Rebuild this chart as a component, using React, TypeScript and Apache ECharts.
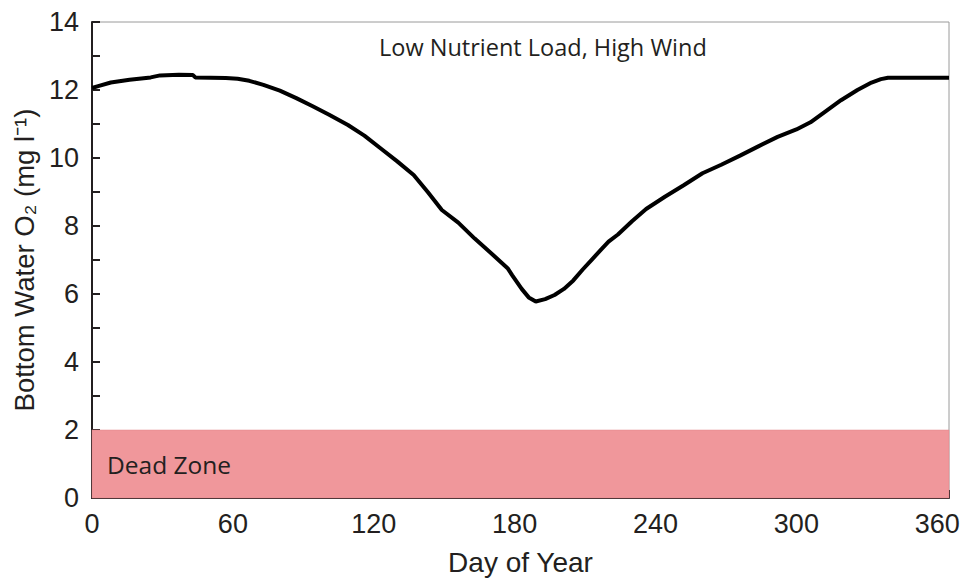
import React, { useEffect, useRef } from "react";
import * as echarts from "echarts";

const days = [0, 3, 8, 16, 25, 29, 37, 43, 44, 57, 62, 67, 73, 80, 87, 94, 101, 109, 116, 123, 130, 137, 143, 149, 156, 163, 170, 177, 179, 183, 186, 189, 193, 197, 201, 205, 209, 213, 217, 220, 224, 230, 236, 244, 252, 260, 268, 276, 284, 292, 300, 306, 312, 319, 326, 332, 336, 339, 350, 365];
const oxygen = [12.06, 12.12, 12.22, 12.3, 12.37, 12.43, 12.45, 12.44, 12.37, 12.35, 12.33, 12.27, 12.15, 11.98, 11.76, 11.52, 11.27, 10.97, 10.66, 10.28, 9.9, 9.5, 9.0, 8.47, 8.1, 7.63, 7.2, 6.76, 6.55, 6.15, 5.9, 5.78, 5.85, 5.97, 6.15, 6.4, 6.72, 7.02, 7.32, 7.54, 7.75, 8.14, 8.5, 8.86, 9.2, 9.55, 9.8, 10.07, 10.35, 10.62, 10.84, 11.05, 11.35, 11.7, 12.0, 12.22, 12.32, 12.36, 12.36, 12.36];
const deadZone = [0, 2];
const titleText = "Low Nutrient Load, High Wind";
const deadZoneText = "Dead Zone";
const xName = "Day of Year";
const yName = "Bottom Water O\u2082 (mg l\u207B\u00B9)";

export default function App() {
  const ref = useRef<HTMLDivElement>(null);
  useEffect(() => {
    if (!ref.current) return;
    const chart = echarts.init(ref.current, null, { renderer: "svg" });
    const axisColor = "#231f20";
    chart.setOption({
      animation: false,
      backgroundColor: "#ffffff",
      grid: {
        left: 92,
        right: 15,
        top: 22,
        bottom: 84,
        show: true,
        borderColor: "#9a9a9a",
        borderWidth: 1,
        backgroundColor: "transparent",
      },
      xAxis: {
        type: "value",
        min: 0,
        max: 365,
        interval: 30,
        name: xName,
        nameLocation: "middle",
        nameGap: 50,
        nameTextStyle: { fontFamily: "Liberation Sans, Arial", fontSize: 28, color: axisColor },
        axisLine: { show: true, lineStyle: { color: axisColor, width: 2 } },
        axisTick: { show: true, inside: true, length: 8, lineStyle: { color: axisColor, width: 2 } },
        splitLine: { show: false },
        axisLabel: {
          margin: 12,
          fontFamily: "Liberation Sans, Arial",
          fontSize: 27,
          color: axisColor,
          formatter: (v: number) => (v % 60 === 0 ? String(v) : ""),
        },
      },
      yAxis: {
        type: "value",
        min: 0,
        max: 14,
        interval: 1,
        name: yName,
        nameLocation: "middle",
        nameGap: 52,
        nameTextStyle: { fontFamily: "Liberation Sans, Arial", fontSize: 27.5, color: axisColor },
        axisLine: { show: true, lineStyle: { color: axisColor, width: 2 } },
        axisTick: { show: true, inside: true, length: 8, lineStyle: { color: axisColor, width: 2 } },
        splitLine: { show: false },
        axisLabel: {
          margin: 13,
          fontFamily: "Liberation Sans, Arial",
          fontSize: 27,
          color: axisColor,
          formatter: (v: number) => (v % 2 === 0 ? String(v) : ""),
        },
      },
      graphic: [
        {
          type: "text",
          left: 379,
          top: 35,
          style: { text: titleText, font: "23.5px 'Open Sans'", fill: axisColor },
          z: 10,
        },
        {
          type: "text",
          left: 107,
          top: 452,
          style: { text: deadZoneText, font: "24.5px 'Open Sans'", fill: axisColor },
          z: 10,
        },
      ],
      series: [
        {
          type: "line",
          data: days.map((d, i) => [d, oxygen[i]]),
          showSymbol: false,
          lineStyle: { color: "#000000", width: 4 },
          z: 5,
          markArea: {
            silent: true,
            itemStyle: { color: "#f0979b", opacity: 1, borderColor: "#e0868a", borderWidth: 0.5 },
            data: [[{ yAxis: deadZone[0] }, { yAxis: deadZone[1] }]],
          },
        },
      ],
    });
    return () => chart.dispose();
  }, []);
  return (
    <div
      ref={ref}
      style={{ position: "fixed", left: 0, top: 0, width: 964, height: 582 }}
    />
  );
}
